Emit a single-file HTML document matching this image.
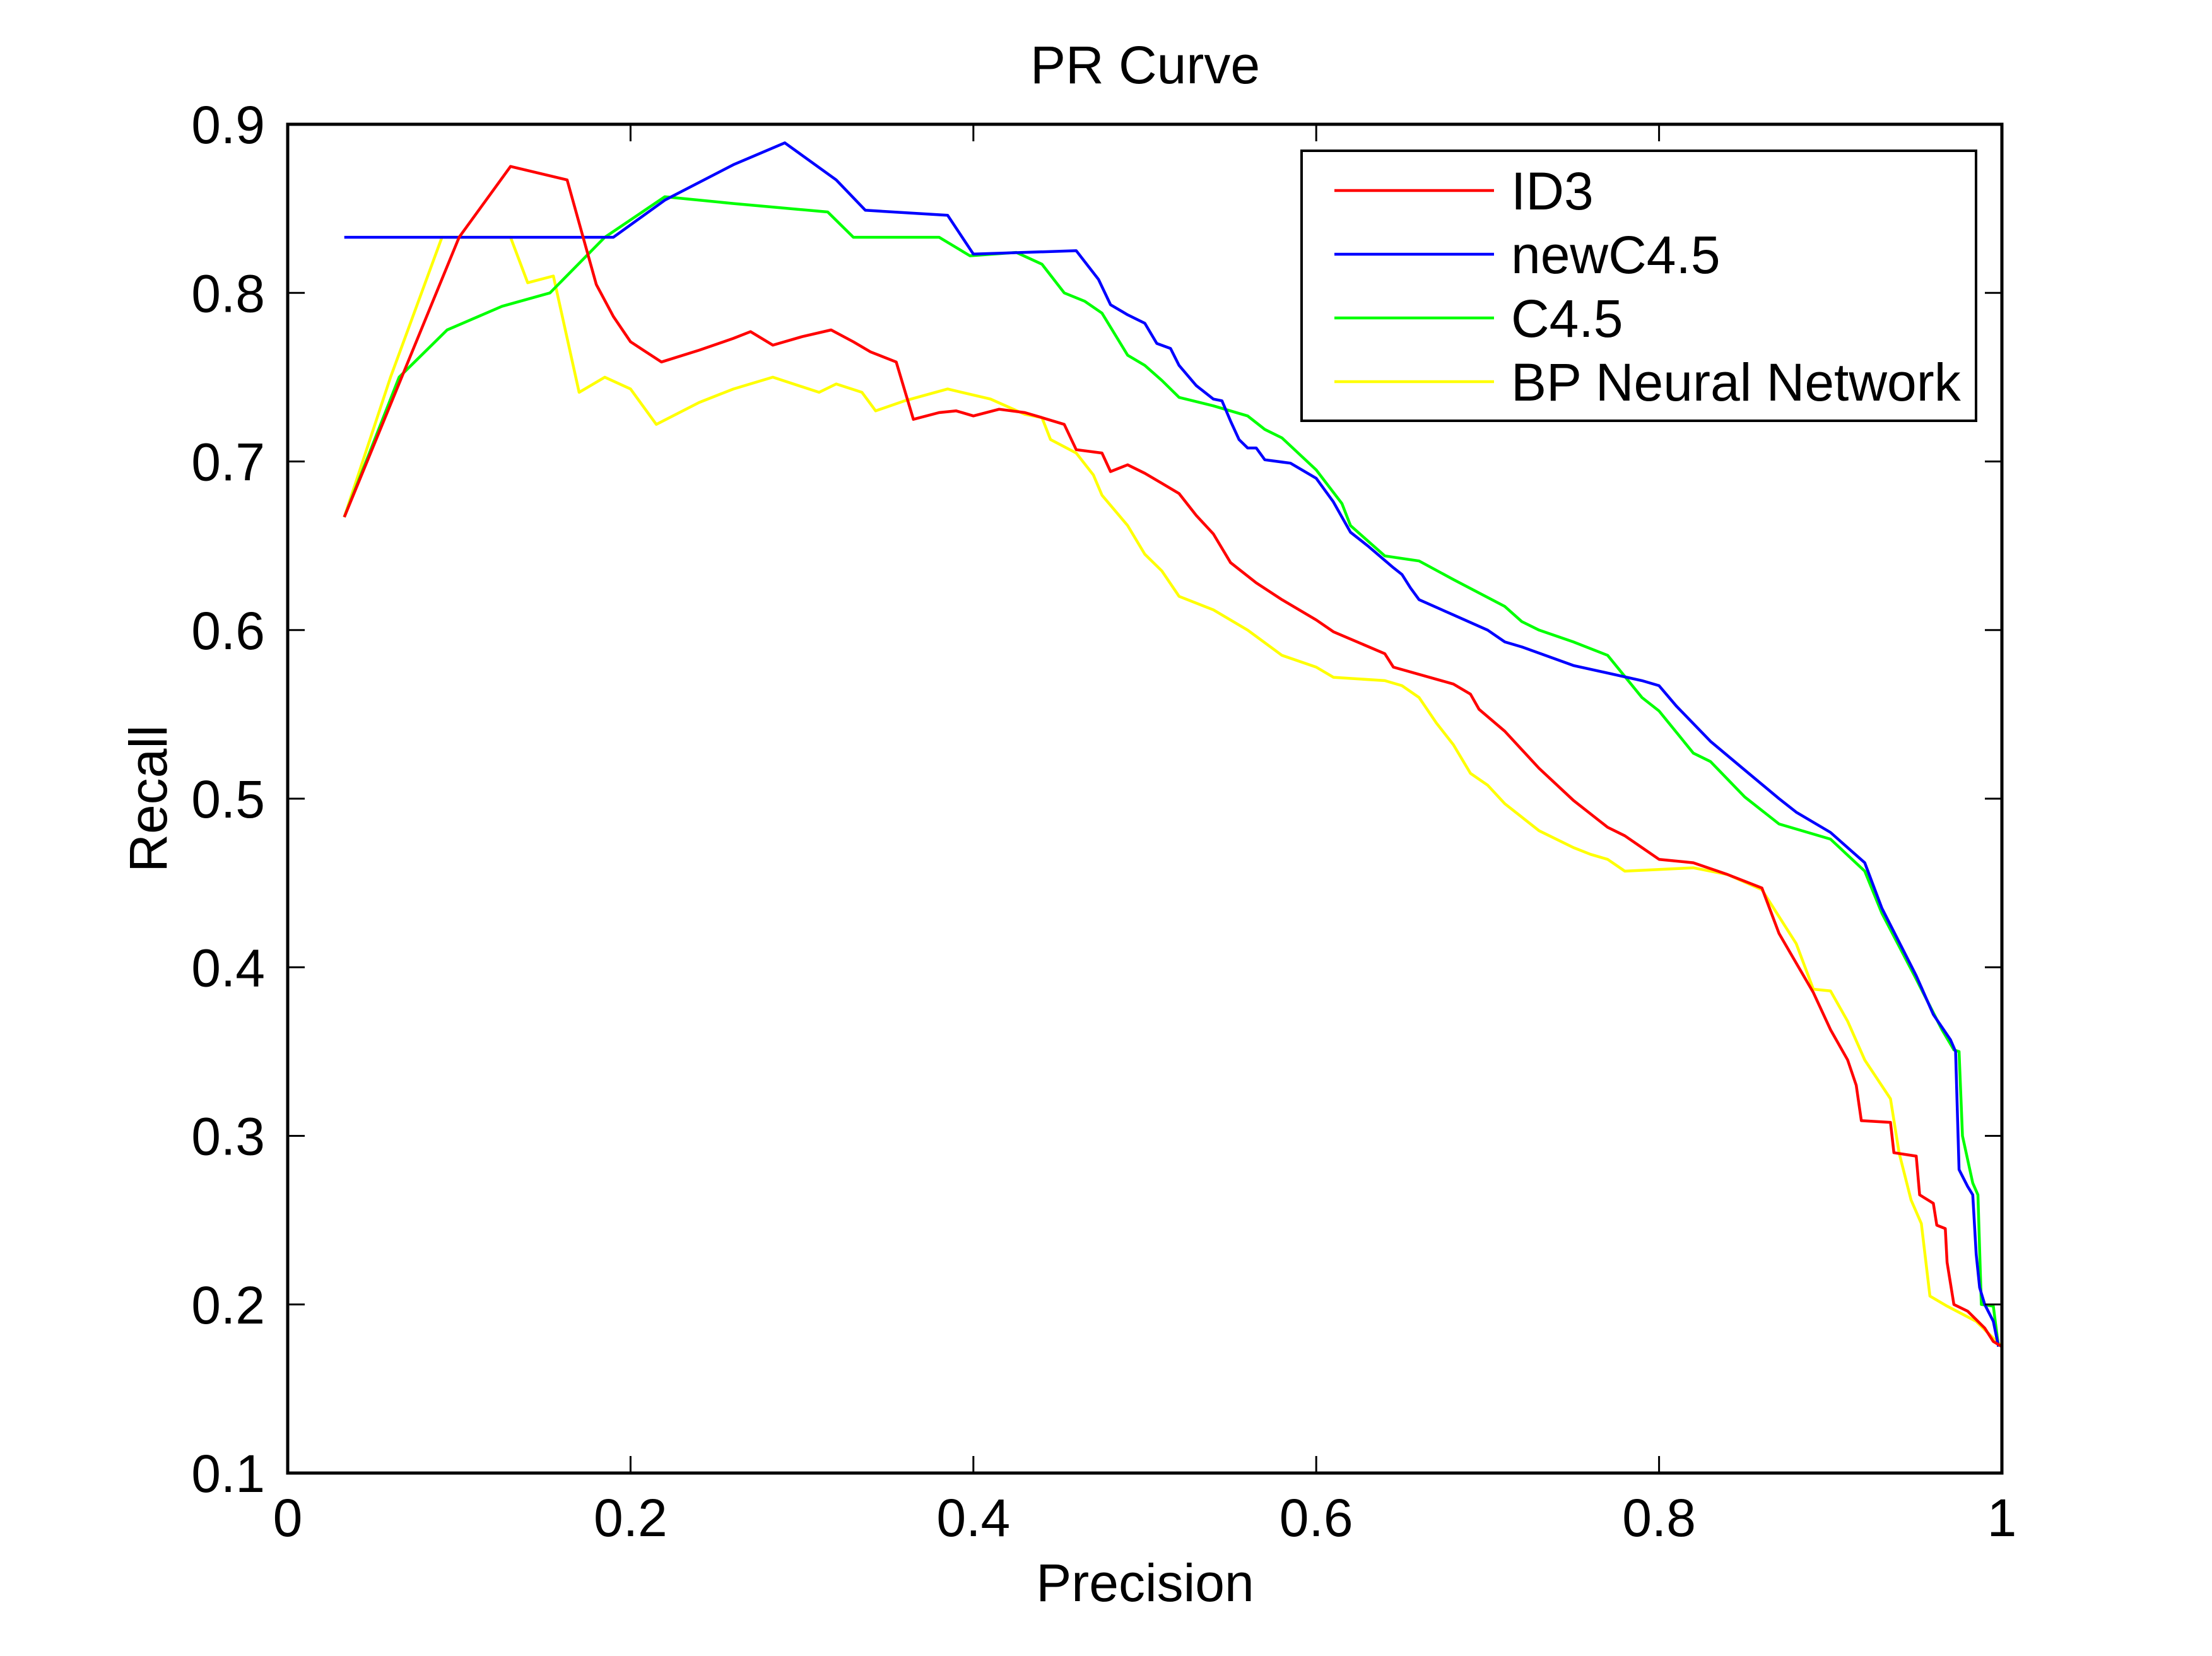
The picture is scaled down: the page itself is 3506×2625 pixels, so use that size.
<!DOCTYPE html>
<html><head><meta charset="utf-8"><title>PR Curve</title>
<style>
html,body{margin:0;padding:0;background:#fff;}
svg{display:block;font-family:"Liberation Sans",Arial,sans-serif;}
</style></head>
<body>
<svg id="chart" width="3506" height="2625" viewBox="0 0 3506 2625" xmlns="http://www.w3.org/2000/svg">
<rect x="0" y="0" width="3506" height="2625" fill="#fff"/>
<g id="series"></g>
<g id="axes"></g>
<text x="1815" y="132" font-size="84" text-anchor="middle">PR Curve</text>
<text x="1815" y="2538" font-size="84" text-anchor="middle">Precision</text>
<text x="0" y="0" font-size="84" text-anchor="middle" transform="translate(264,1266) rotate(-90)">Recall</text>
<g id="legend"></g>
</svg>
<script>
const xTicks = [0, 0.2, 0.4, 0.6, 0.8, 1];
const xTickLabels = ["0", "0.2", "0.4", "0.6", "0.8", "1"];
const yTicks = [0.1, 0.2, 0.3, 0.4, 0.5, 0.6, 0.7, 0.8, 0.9];
const yTickLabels = ["0.1", "0.2", "0.3", "0.4", "0.5", "0.6", "0.7", "0.8", "0.9"];
const seriesNames = ["ID3", "newC4.5", "C4.5", "BP Neural Network"];

const id3X = [0.033,0.1,0.13,0.163,0.18,0.19,0.2,0.218,0.24,0.26,0.27,0.283,0.3,0.317,0.33,0.34,0.355,0.365,0.38,0.39,0.4,0.415,0.43,0.44,0.453,0.46,0.475,0.48,0.49,0.5,0.51,0.52,0.53,0.54,0.55,0.565,0.58,0.6,0.61,0.64,0.645,0.68,0.69,0.695,0.71,0.73,0.75,0.77,0.78,0.79,0.8,0.82,0.84,0.86,0.87,0.89,0.9,0.91,0.915,0.918,0.935,0.937,0.95,0.952,0.96,0.962,0.967,0.968,0.972,0.98,0.99,0.995,1.0];
const id3Y = [0.667,0.833,0.875,0.867,0.805,0.786,0.771,0.759,0.766,0.773,0.777,0.769,0.774,0.778,0.771,0.765,0.759,0.725,0.729,0.73,0.727,0.731,0.729,0.726,0.722,0.707,0.705,0.694,0.698,0.693,0.687,0.681,0.668,0.657,0.640,0.628,0.618,0.606,0.599,0.586,0.578,0.568,0.562,0.553,0.540,0.518,0.499,0.483,0.478,0.471,0.464,0.462,0.455,0.447,0.420,0.385,0.363,0.345,0.330,0.309,0.308,0.290,0.288,0.265,0.26,0.247,0.245,0.225,0.200,0.196,0.186,0.178,0.175];

const newC45X = [0.033,0.19,0.22,0.26,0.29,0.32,0.337,0.385,0.4,0.46,0.473,0.48,0.49,0.5,0.507,0.515,0.52,0.53,0.54,0.545,0.55,0.555,0.56,0.565,0.57,0.585,0.6,0.61,0.62,0.63,0.645,0.65,0.655,0.66,0.68,0.7,0.71,0.72,0.75,0.79,0.8,0.81,0.83,0.85,0.87,0.88,0.9,0.92,0.93,0.95,0.96,0.97,0.973,0.975,0.98,0.983,0.985,0.987,0.99,0.995,0.998];
const newC45Y = [0.833,0.833,0.855,0.876,0.889,0.867,0.849,0.846,0.823,0.825,0.808,0.793,0.787,0.782,0.770,0.767,0.757,0.745,0.737,0.736,0.724,0.713,0.708,0.708,0.701,0.699,0.690,0.676,0.658,0.650,0.637,0.633,0.625,0.618,0.609,0.600,0.593,0.590,0.579,0.570,0.567,0.555,0.534,0.517,0.500,0.492,0.480,0.462,0.435,0.395,0.372,0.357,0.35,0.28,0.27,0.265,0.23,0.21,0.20,0.19,0.175];

const c45X = [0.033,0.065,0.093,0.125,0.153,0.185,0.22,0.26,0.315,0.33,0.38,0.398,0.425,0.44,0.453,0.465,0.475,0.49,0.5,0.51,0.52,0.54,0.56,0.57,0.58,0.6,0.615,0.62,0.64,0.66,0.68,0.71,0.72,0.73,0.75,0.77,0.79,0.8,0.82,0.83,0.85,0.87,0.9,0.92,0.93,0.95,0.965,0.972,0.975,0.977,0.983,0.986,0.988,0.995,0.998];
const c45Y = [0.667,0.75,0.778,0.792,0.80,0.833,0.857,0.853,0.848,0.833,0.833,0.822,0.824,0.817,0.80,0.795,0.788,0.763,0.757,0.748,0.738,0.733,0.727,0.719,0.714,0.695,0.675,0.662,0.644,0.641,0.630,0.614,0.605,0.600,0.593,0.585,0.560,0.552,0.527,0.522,0.501,0.485,0.476,0.457,0.432,0.393,0.363,0.351,0.35,0.30,0.272,0.265,0.20,0.199,0.175];

const bpX = [0.033,0.06,0.09,0.13,0.14,0.155,0.17,0.185,0.2,0.215,0.24,0.26,0.283,0.31,0.32,0.335,0.343,0.36,0.385,0.41,0.43,0.44,0.445,0.46,0.47,0.475,0.49,0.5,0.51,0.52,0.54,0.56,0.58,0.6,0.61,0.64,0.65,0.66,0.67,0.68,0.69,0.7,0.71,0.73,0.75,0.76,0.77,0.78,0.82,0.84,0.86,0.88,0.89,0.9,0.91,0.92,0.935,0.94,0.947,0.953,0.958,0.968,0.985,0.995,1.0];
const bpY = [0.667,0.75,0.833,0.833,0.806,0.81,0.741,0.75,0.743,0.722,0.735,0.743,0.75,0.741,0.746,0.741,0.73,0.736,0.743,0.737,0.728,0.726,0.713,0.705,0.692,0.68,0.662,0.645,0.635,0.62,0.612,0.600,0.585,0.578,0.572,0.570,0.567,0.560,0.545,0.532,0.515,0.508,0.497,0.481,0.471,0.467,0.464,0.457,0.459,0.455,0.446,0.414,0.387,0.386,0.368,0.345,0.322,0.29,0.262,0.248,0.205,0.199,0.19,0.18,0.175];

const L = 456, R = 3173, T = 197, B = 2335;
function sx(v){ return L + (v - 0) / (1 - 0) * (R - L); }
function sy(v){ return B - (v - 0.1) / (0.9 - 0.1) * (B - T); }

const NS = "http://www.w3.org/2000/svg";
const series = document.getElementById('series');
const axes = document.getElementById('axes');
const legend = document.getElementById('legend');
const colors = ["#ff0000", "#0000ff", "#00ff00", "#ffff00"];
const names = ["id3-line", "newc45-line", "c45-line", "bp-neural-network-line"];
const allX = [id3X, newC45X, c45X, bpX];
const allY = [id3Y, newC45Y, c45Y, bpY];

// draw in reverse so ID3 is on top
for (let s = 3; s >= 0; s--) {
  const xs = allX[s], ys = allY[s];
  let d = "";
  for (let i = 0; i < xs.length; i++) d += (i ? "L" : "M") + sx(xs[i]).toFixed(1) + " " + sy(ys[i]).toFixed(1);
  const p = document.createElementNS(NS, 'path');
  p.setAttribute('d', d);
  p.setAttribute('fill', 'none');
  p.setAttribute('stroke', colors[s]);
  p.setAttribute('stroke-width', '4.5');
  p.setAttribute('stroke-linejoin', 'round');
  
  
  series.appendChild(p);
}

// frame
const frame = document.createElementNS(NS, 'rect');
frame.setAttribute('x', L); frame.setAttribute('y', T);
frame.setAttribute('width', R - L); frame.setAttribute('height', B - T);
frame.setAttribute('fill', 'none'); frame.setAttribute('stroke', '#000'); frame.setAttribute('stroke-width', '5');


axes.appendChild(frame);

const tl = 27;
xTicks.forEach((v, i) => {
  const x = sx(v);
  const t1 = document.createElementNS(NS, 'path');
  t1.setAttribute('d', `M${x} ${B}V${B - tl}M${x} ${T}V${T + tl}`);
  t1.setAttribute('stroke', '#000'); t1.setAttribute('stroke-width', '3');
  
  
  axes.appendChild(t1);
  const tx = document.createElementNS(NS, 'text');
  tx.setAttribute('x', x); tx.setAttribute('y', 2435);
  tx.setAttribute('font-size', '84'); tx.setAttribute('text-anchor', 'middle');
  tx.textContent = xTickLabels[i];
  
  
  axes.appendChild(tx);
});
yTicks.forEach((v, i) => {
  const y = sy(v);
  const t1 = document.createElementNS(NS, 'path');
  t1.setAttribute('d', `M${L} ${y}H${L + tl}M${R} ${y}H${R - tl}`);
  t1.setAttribute('stroke', '#000'); t1.setAttribute('stroke-width', '3');
  
  
  axes.appendChild(t1);
  const tx = document.createElementNS(NS, 'text');
  tx.setAttribute('x', 420); tx.setAttribute('y', y + 30);
  tx.setAttribute('font-size', '84'); tx.setAttribute('text-anchor', 'end');
  tx.textContent = yTickLabels[i];
  
  
  axes.appendChild(tx);
});

// legend
const lb = document.createElementNS(NS, 'rect');
lb.setAttribute('x', 2063); lb.setAttribute('y', 239);
lb.setAttribute('width', 1069); lb.setAttribute('height', 428);
lb.setAttribute('fill', '#fff'); lb.setAttribute('stroke', '#000'); lb.setAttribute('stroke-width', '4');


legend.appendChild(lb);
seriesNames.forEach((n, i) => {
  const y = 302 + i * 101;
  const ln = document.createElementNS(NS, 'line');
  ln.setAttribute('x1', 2115); ln.setAttribute('x2', 2368);
  ln.setAttribute('y1', y); ln.setAttribute('y2', y);
  ln.setAttribute('stroke', colors[i]); ln.setAttribute('stroke-width', '4.5');
  
  
  legend.appendChild(ln);
  const tx = document.createElementNS(NS, 'text');
  tx.setAttribute('x', 2395); tx.setAttribute('y', y + 30);
  tx.setAttribute('font-size', '84');
  tx.textContent = n;
  
  
  legend.appendChild(tx);
});
</script>
</body></html>
